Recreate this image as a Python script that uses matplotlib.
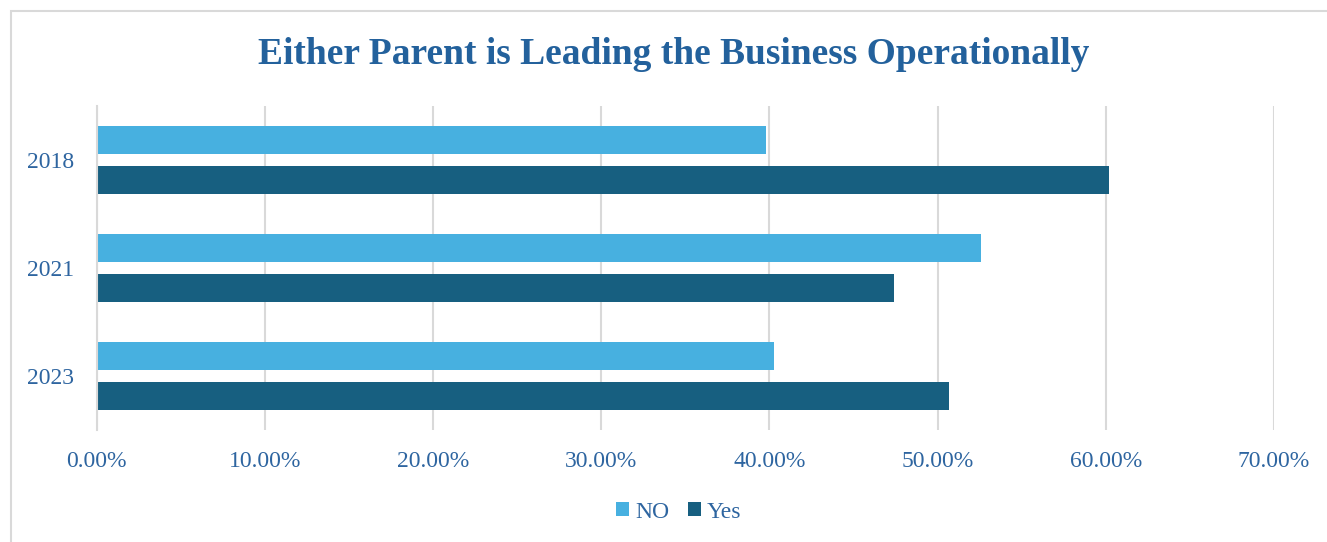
import matplotlib.pyplot as plt
from matplotlib.patches import Rectangle
import numpy as np

# data
years = ["2018", "2021", "2023"]
no_vals = [39.8, 52.6, 40.3]
yes_vals = [60.2, 47.4, 50.7]
xticks = [0, 10, 20, 30, 40, 50, 60, 70]

c_no = "#47B0E0"
c_yes = "#175F80"
c_text = "#2E65A0"
c_title = "#23619C"
c_grid = "#D9D9D9"

plt.rcParams['font.family'] = ['Liberation Serif', 'DejaVu Serif']

fig = plt.figure(figsize=(13.27, 5.42), dpi=100)
ax = fig.add_axes([96.5/1327, 1-430/542, (1274-96.5)/1327, 324/542])

# light frame around the chart
fig.patches.append(Rectangle((10.5/1327, -0.01), 1.1, 1-10.5/542+0.01, transform=fig.transFigure,
                             fill=False, edgecolor="#D9D9D9", linewidth=1.5))

y = np.arange(len(years))
h = 0.26
off = 0.1875
ax.barh(y - off, no_vals, height=h, color=c_no, label="NO", zorder=3)
ax.barh(y + off, yes_vals, height=h, color=c_yes, label="Yes", zorder=3)

ax.set_ylim(2.5, -0.5)
ax.set_xlim(0, 70)
ax.set_yticks(y)
ax.set_yticklabels(years)
ax.set_xticks(xticks)
ax.set_xticklabels(["%.2f%%" % v for v in xticks])
ax.tick_params(axis='both', length=0, labelsize=17, labelcolor=c_text)
ax.tick_params(axis='x', pad=15)
ax.tick_params(axis='y', pad=16)
ax.grid(axis='x', color=c_grid, linewidth=1.5, zorder=0)
for s in ["top", "right", "bottom"]:
    ax.spines[s].set_visible(False)
ax.spines["left"].set_color(c_grid)
ax.spines["left"].set_linewidth(1.5)
ax.spines["left"].set_zorder(4)

fig.text(674/1327, 1-55/542, "Either Parent is Leading the Business Operationally",
         ha="center", va="center", fontsize=27, fontweight="bold", color=c_title)

leg = fig.legend(loc="center", bbox_to_anchor=(679/1327, 1-512/542), ncol=2, frameon=False,
                 fontsize=17, handlelength=0.55, handleheight=0.55, handletextpad=0.25,
                 columnspacing=0.8)
for t in leg.get_texts():
    t.set_color(c_text)

fig.savefig("out.png", dpi=100)
